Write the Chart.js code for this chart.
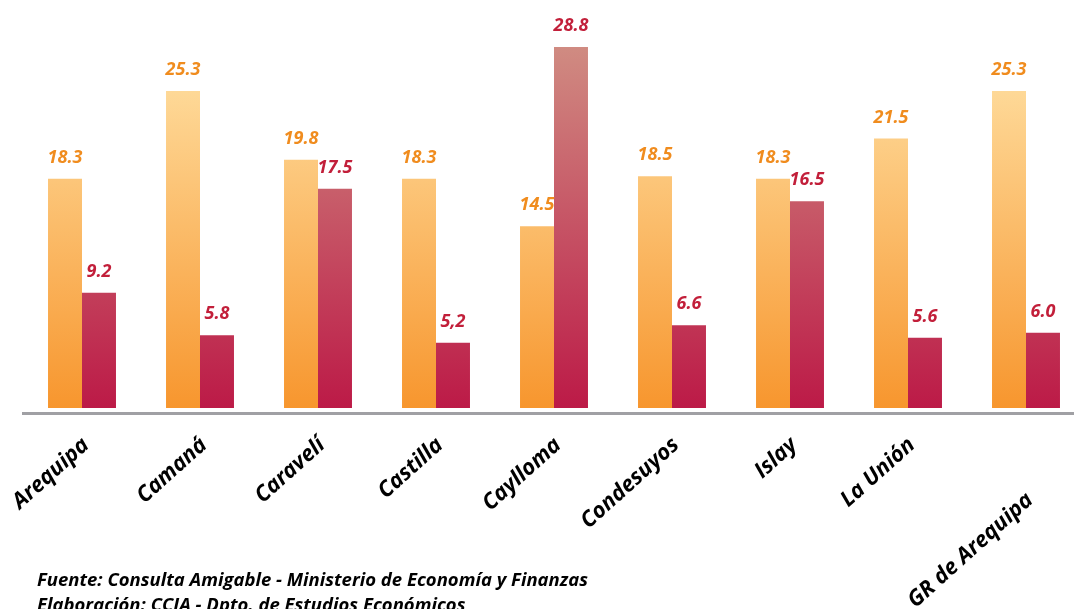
<!DOCTYPE html>
<html lang="es">
<head>
<meta charset="utf-8">
<script src="https://cdn.jsdelivr.net/npm/chart.js@4.4.1/dist/chart.umd.min.js"></script>
<style>
    html, body { margin: 0; padding: 0; background: #fff; overflow: hidden; }
    #wrap { position: relative; width: 1090px; height: 609px; }
    .note {
        position: absolute; left: 37px;
        font-family: 'Open Sans', Lato, sans-serif;
        font-weight: bold; font-style: italic; font-size: 18.5px; line-height: 1; color: #000;
        white-space: nowrap;
    }
</style>
</head>
<body>
<div id="wrap">
    <canvas id="chart" width="1090" height="609"></canvas>
    <div class="note" style="top: 570px;">Fuente: Consulta Amigable - Ministerio de Economía y Finanzas</div>
    <div class="note" style="top: 595px;">Elaboración: CCIA - Dpto. de Estudios Económicos</div>
</div>
<script>
// data
const provincias = ['Arequipa', 'Camaná', 'Caravelí', 'Castilla', 'Caylloma', 'Condesuyos', 'Islay', 'La Unión', 'GR de Arequipa'];
const serie1 = [18.3, 25.3, 19.8, 18.3, 14.5, 18.5, 18.3, 21.5, 25.3];
const serie2 = [9.2, 5.8, 17.5, 5.2, 28.8, 6.6, 16.5, 5.6, 6.0];
const etiquetas1 = ['18.3', '25.3', '19.8', '18.3', '14.5', '18.5', '18.3', '21.5', '25.3'];
const etiquetas2 = ['9.2', '5.8', '17.5', '5,2', '28.8', '6.6', '16.5', '5.6', '6.0'];

const FONT = "'Open Sans', Lato, sans-serif";
const colors = {
    orangeTop: '#FFE2A6', orangeBottom: '#F7962E', orangeText: '#F08C1E',
    redTop: '#D08C82', redBottom: '#BC1A47', redText: '#C21F3A',
    axis: '#A0A0A4'
};

// vertical gradient over the value range (so short bars stay darker)
function barGradient(top, bottom) {
    return (context) => {
        const chart = context.chart;
        if (!chart.chartArea) return bottom;
        const y = chart.scales.y;
        const g = chart.ctx.createLinearGradient(0, y.getPixelForValue(29), 0, y.getPixelForValue(0));
        g.addColorStop(0, top);
        g.addColorStop(1, bottom);
        return g;
    };
}

// value labels above the bars + rotated category labels
const labelPlugin = {
    id: 'labelPlugin',
    afterDatasetsDraw(chart) {
        const ctx = chart.ctx;
        const sets = [[etiquetas1, colors.orangeText], [etiquetas2, colors.redText]];
        ctx.save();
        ctx.font = 'italic bold 18px ' + FONT;
        ctx.textAlign = 'center';
        ctx.textBaseline = 'alphabetic';
        sets.forEach(([texts, color], di) => {
            ctx.fillStyle = color;
            chart.getDatasetMeta(di).data.forEach((bar, i) => {
                ctx.fillText(texts[i], bar.x, bar.y - 16);
            });
        });

        const x = chart.scales.x;
        ctx.font = 'italic bold 22px ' + FONT;
        ctx.fillStyle = '#000';
        ctx.textAlign = 'right';
        ctx.textBaseline = 'middle';
        provincias.forEach((name, i) => {
            const drop = i === provincias.length - 1 ? 55 : 0;
            ctx.save();
            ctx.translate(x.getPixelForValue(i) + 4, chart.chartArea.bottom + 29 + drop);
            ctx.rotate(-42 * Math.PI / 180);
            ctx.fillText(name, 0, 0);
            ctx.restore();
        });
        ctx.restore();
    }
};

new Chart(document.getElementById('chart').getContext('2d'), {
    type: 'bar',
    data: {
        labels: provincias,
        datasets: [
            {
                label: 'Serie 1',
                data: serie1,
                backgroundColor: barGradient(colors.orangeTop, colors.orangeBottom),
                categoryPercentage: 0.576,
                barPercentage: 1
            },
            {
                label: 'Serie 2',
                data: serie2,
                backgroundColor: barGradient(colors.redTop, colors.redBottom),
                categoryPercentage: 0.576,
                barPercentage: 1
            }
        ]
    },
    options: {
        responsive: false,
        animation: false,
        layout: { padding: { top: 32, left: 23, right: 5, bottom: 0 } },
        plugins: {
            legend: { display: false },
            tooltip: { enabled: false }
        },
        scales: {
            x: {
                grid: { display: false },
                border: { color: colors.axis, width: 3 },
                ticks: { display: false },
                afterFit(scale) { scale.height = 196; }
            },
            y: {
                display: false,
                min: -0.4,
                max: 30
            }
        }
    },
    plugins: [labelPlugin]
});
</script>
</body>
</html>
